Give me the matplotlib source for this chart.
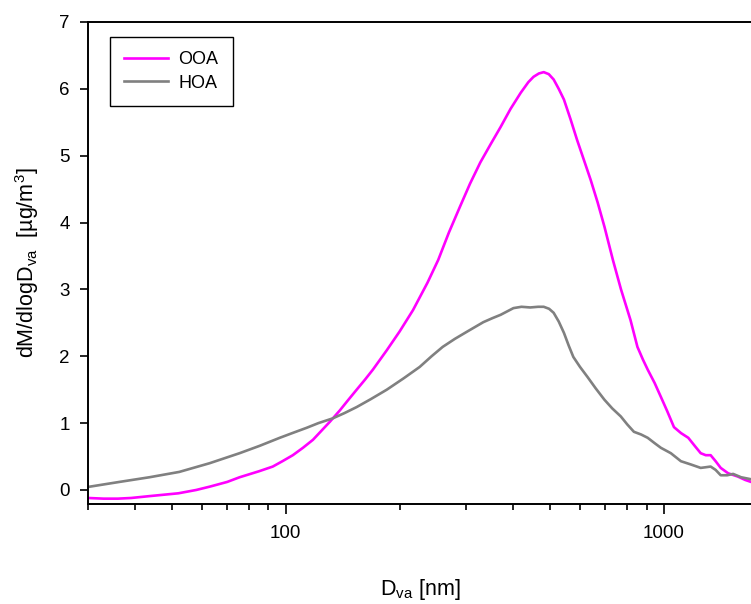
import numpy as np
import matplotlib
matplotlib.use("Agg")
import matplotlib.pyplot as plt
from matplotlib.ticker import LogLocator, FixedLocator, NullFormatter, FixedFormatter

plt.rcParams['font.family'] = ['Liberation Sans', 'DejaVu Sans']
plt.rcParams['mathtext.default'] = 'regular'

# -------------------------
# data
# -------------------------
ooa_d = [30, 33, 36, 39, 44, 52, 58, 63, 70, 75.5, 85, 92.4, 98, 104.4, 111, 118,
         124, 130.8, 139, 146, 154, 162, 170, 185, 200, 217, 237, 253, 270, 289,
         307, 327, 348, 370, 393, 418, 438, 452, 467, 481, 496, 511, 527, 544,
         566, 589, 614, 640, 668, 696, 733, 770, 816, 851, 880, 906, 945, 982,
         1020, 1063, 1110, 1160, 1210, 1251, 1290, 1329, 1370, 1413, 1478, 1569,
         1640, 1700, 1760]
ooa_m = [-0.12, -0.13, -0.13, -0.12, -0.09, -0.05, 0.0, 0.05, 0.12, 0.19, 0.28,
         0.35, 0.43, 0.52, 0.63, 0.75, 0.88, 1.02, 1.19, 1.34, 1.50, 1.65, 1.80,
         2.09, 2.37, 2.69, 3.10, 3.44, 3.85, 4.24, 4.58, 4.90, 5.17, 5.43, 5.70,
         5.94, 6.10, 6.18, 6.23, 6.25, 6.22, 6.14, 6.00, 5.84, 5.55, 5.24, 4.94,
         4.64, 4.30, 3.94, 3.44, 3.00, 2.54, 2.14, 1.95, 1.80, 1.60, 1.39, 1.18,
         0.94, 0.85, 0.78, 0.65, 0.55, 0.52, 0.52, 0.43, 0.33, 0.25, 0.20, 0.15,
         0.12, 0.11]

hoa_d = [30, 36.3, 43.6, 52.3, 62.9, 75.5, 85.3, 96.4, 104, 113.6, 122, 133, 143,
         154, 168, 185, 205, 226, 243, 260, 280, 302, 333, 352, 370, 400, 420,
         443, 465, 481, 497, 511, 527, 544, 560, 576, 600, 628, 660, 696, 730,
         769, 800, 833, 870, 906, 945, 982, 1043, 1109, 1180, 1251, 1290, 1329,
         1370, 1413, 1470, 1524, 1600, 1700, 1760]
hoa_m = [0.045, 0.12, 0.19, 0.27, 0.40, 0.55, 0.66, 0.78, 0.85, 0.93, 1.00, 1.07,
         1.15, 1.24, 1.36, 1.50, 1.67, 1.84, 2.00, 2.14, 2.26, 2.37, 2.51, 2.57,
         2.62, 2.72, 2.74, 2.73, 2.74, 2.74, 2.71, 2.65, 2.52, 2.35, 2.16, 1.99,
         1.84, 1.69, 1.52, 1.35, 1.22, 1.10, 0.98, 0.87, 0.83, 0.78, 0.70, 0.63,
         0.55, 0.43, 0.38, 0.33, 0.34, 0.35, 0.30, 0.22, 0.22, 0.24, 0.19, 0.16,
         0.14]

x_major = [100, 1000]
x_major_labels = ["100", "1000"]
y_ticks = [0, 1, 2, 3, 4, 5, 6, 7]

# -------------------------
# figure
# -------------------------
fig = plt.figure(figsize=(7.51, 6.04), dpi=100)
ax = fig.add_axes([88/751, 1 - 504/604, 665/751, (504 - 22)/604])

ax.plot(ooa_d, ooa_m, color="#FF00FF", lw=1.9, label="OOA")
ax.plot(hoa_d, hoa_m, color="#808080", lw=1.9, label="HOA")

ax.set_xscale("log")
ax.set_xlim(30, 1720)
ax.set_ylim(-0.21, 7)

ax.xaxis.set_major_locator(FixedLocator(x_major))
ax.xaxis.set_major_formatter(FixedFormatter(x_major_labels))
ax.xaxis.set_minor_locator(LogLocator(base=10, subs=np.arange(2, 10)))
ax.xaxis.set_minor_formatter(NullFormatter())
ax.set_yticks(y_ticks)

ax.tick_params(axis="both", which="major", direction="out", length=7, width=1.2,
               labelsize=13.5, colors="black")
ax.tick_params(axis="x", which="major", pad=8)
ax.tick_params(axis="y", which="major", pad=7, length=6)
ax.tick_params(axis="x", which="minor", direction="out", length=4, width=1.2)

for s in ["left", "bottom", "top"]:
    ax.spines[s].set_linewidth(1.4)
ax.spines["right"].set_visible(False)

ax.set_xlabel("D$_{va}$ [nm]", fontsize=15.5, labelpad=25)
ax.set_ylabel("dM/dlogD$_{va}$  [µg/m$^3$]", fontsize=15.5, labelpad=13)

leg = ax.legend(loc="upper left", bbox_to_anchor=(0.033, 0.969), borderaxespad=0,
                fontsize=13, handlelength=2.4, handletextpad=0.6,
                labelspacing=0.35, borderpad=0.8, fancybox=False, framealpha=1)
leg.get_frame().set_edgecolor("black")
leg.get_frame().set_linewidth(1.0)

fig.savefig("out.png", dpi=100)
